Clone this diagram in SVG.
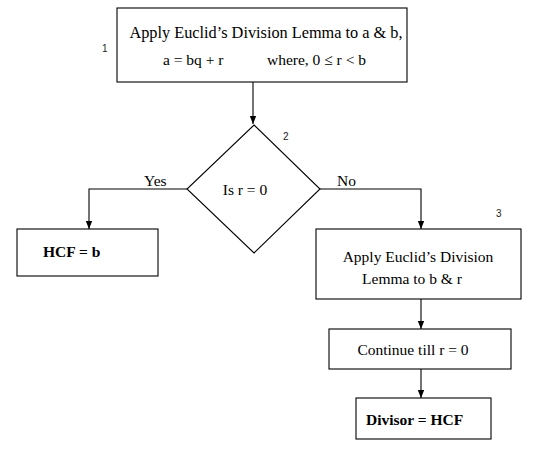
<svg xmlns="http://www.w3.org/2000/svg" width="534" height="453" viewBox="0 0 534 453">
<defs>
<marker id="arr" viewBox="0 0 8 8" refX="8" refY="4" markerWidth="8" markerHeight="8" markerUnits="userSpaceOnUse" orient="auto">
<path d="M0,0.8 L8,4 L0,7.2 Z" fill="#000"/>
</marker>
</defs>
<style>
.box{fill:#fff;stroke:#000;stroke-width:1.1}
.t{font-family:"Liberation Serif","Times New Roman",serif;font-size:15.5px;fill:#000}
.b{font-weight:bold}
.n{font-family:"Liberation Sans",Arial,sans-serif;font-size:10px;fill:#222}
.c{fill:none;stroke:#000;stroke-width:1.1}
</style>
<rect width="534" height="453" fill="#fff"/>
<g id="connectors">
<path class="c" d="M253,82 V124" marker-end="url(#arr)"/>
<path class="c" d="M187,189 H89 V229" marker-end="url(#arr)"/>
<path class="c" d="M320,189 H421 V229" marker-end="url(#arr)"/>
<path class="c" d="M421,299 V329" marker-end="url(#arr)"/>
<path class="c" d="M421,369 V398" marker-end="url(#arr)"/>
<text class="t" x="144" y="186">Yes</text>
<text class="t" x="337" y="186">No</text>
</g>
<g id="n1">
<rect class="box" x="117" y="8" width="290" height="74"/>
<text class="t" x="266" y="38" text-anchor="middle" style="font-size:16.3px">Apply Euclid’s Division Lemma to a &amp; b,</text>
<text class="t" x="163" y="65">a = bq + r</text>
<text class="t" x="267" y="65">where, 0 ≤ r &lt; b</text>
<text class="n" x="102" y="52">1</text>
</g>
<g id="n2">
<path class="box" d="M254,125 L320,189 L254,253 L187,189 Z"/>
<text class="t" x="245" y="195" text-anchor="middle">Is r = 0</text>
<text class="n" x="283" y="140">2</text>
</g>
<g id="n_hcf">
<rect class="box" x="17" y="229" width="141" height="47"/>
<text class="t b" x="43" y="257">HCF = b</text>
</g>
<g id="n3">
<rect class="box" x="316" y="229" width="205" height="70"/>
<text class="t" x="418" y="262" text-anchor="middle">Apply Euclid’s Division</text>
<text class="t" x="412" y="284" text-anchor="middle">Lemma to b &amp; r</text>
<text class="n" x="496" y="217">3</text>
</g>
<g id="n4">
<rect class="box" x="329" y="329" width="182" height="40"/>
<text class="t" x="413" y="355" text-anchor="middle">Continue till r = 0</text>
</g>
<g id="n5">
<rect class="box" x="356" y="398" width="135" height="41"/>
<text class="t b" x="366" y="425">Divisor = HCF</text>
</g>
</svg>
